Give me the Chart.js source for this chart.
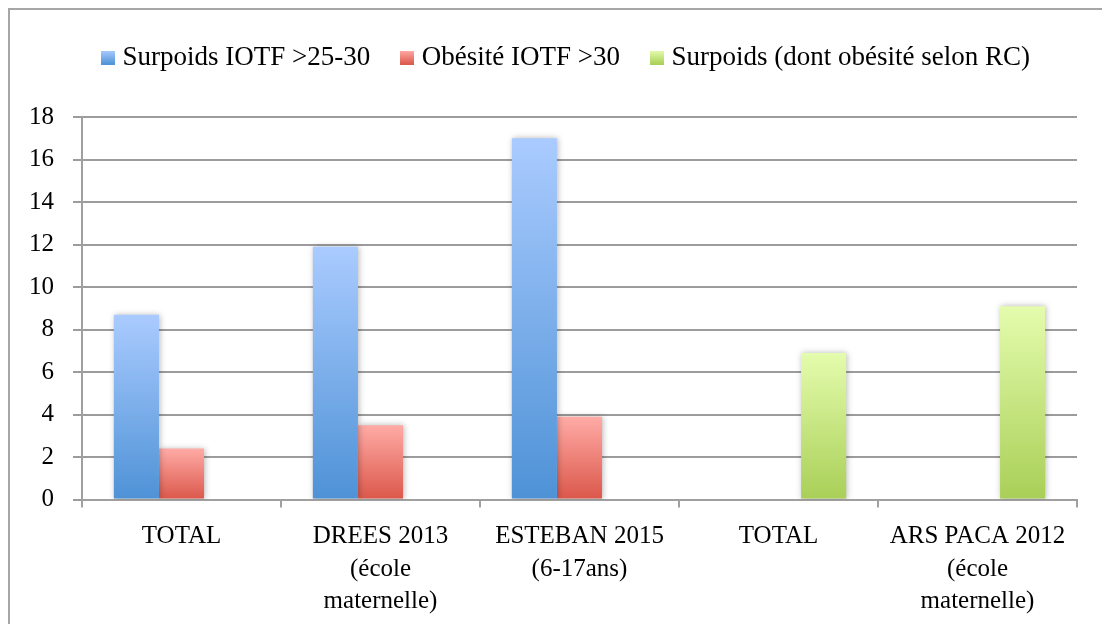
<!DOCTYPE html>
<html>
<head>
<meta charset="utf-8">
<script src="https://cdn.jsdelivr.net/npm/chart.js@4/dist/chart.umd.min.js"></script>
<style>
  body { margin: 0; background: #fff; }
  #wrap { width: 1102px; height: 624px; position: relative; }
</style>
</head>
<body>
<div id="wrap"><canvas id="obesiteChart"></canvas></div>
<script>
// Données
const categories = [
    ['TOTAL'],
    ['DREES 2013', '(école', 'maternelle)'],
    ['ESTEBAN 2015', '(6-17ans)'],
    ['TOTAL'],
    ['ARS PACA 2012', '(école', 'maternelle)']
];
const seriesLabels = ['Surpoids IOTF >25-30', 'Obésité IOTF >30', 'Surpoids (dont obésité selon RC)'];
const surpoidsIOTF = [8.7, 11.9, 17.0, null, null];
const obesiteIOTF = [2.4, 3.5, 3.9, null, null];
const surpoidsRC = [null, null, null, 6.9, 9.1];
const yMin = 0, yMax = 18, yStep = 2;

const FONT = "'Liberation Serif', 'Times New Roman', serif";

// couleurs dégradées (haut, bas)
const blue = ['#aacbff', '#4e92d6'];
const red = ['#ffaba6', '#db574a'];
const green = ['#e4fcad', '#a9cf57'];

// dégradé vertical par barre
function barGradient(colors) {
    return (c) => {
        const chart = c.chart;
        const y = chart.scales.y;
        if (!y || c.raw == null) return colors[1];
        const y0 = y.getPixelForValue(0);
        const y1 = y.getPixelForValue(c.raw);
        if (!isFinite(y0) || !isFinite(y1) || y0 === y1) return colors[1];
        const g = chart.ctx.createLinearGradient(0, y1, 0, y0);
        g.addColorStop(0, colors[0]);
        g.addColorStop(1, colors[1]);
        return g;
    };
}

// petit carré de légende avec dégradé
function legendIcon(colors) {
    const cv = document.createElement('canvas');
    cv.width = 14; cv.height = 14;
    const cx = cv.getContext('2d');
    const g = cx.createLinearGradient(0, 0, 0, 14);
    g.addColorStop(0, colors[0]);
    g.addColorStop(1, colors[1]);
    cx.fillStyle = g;
    cx.fillRect(0, 0, 14, 14);
    return cv;
}
const legendIcons = [legendIcon(blue), legendIcon(red), legendIcon(green)];

// cadre (bord gauche et haut) + ombre des barres + position de la légende
const framePlugin = {
    id: 'frame',
    beforeInit(chart) {
        const legend = chart.legend;
        if (legend) {
            const fit = legend.fit;
            legend.fit = function () {
                fit.call(this);
                this.height = 109;
            };
        }
    },
    afterLayout(chart) {
        // la légende est un peu décalée à droite dans l'original
        if (chart.legend) {
            chart.legend.left += 30;
            chart.legend.right += 30;
        }
    },
    beforeDraw(chart) {
        const ctx = chart.ctx;
        ctx.save();
        ctx.fillStyle = '#fff';
        ctx.fillRect(0, 0, chart.width, chart.height);
        ctx.restore();
    },
    beforeDatasetsDraw(chart) {
        const ctx = chart.ctx;
        ctx.save();
        ctx.shadowColor = 'rgba(0,0,0,0.28)';
        ctx.shadowBlur = 6;
        ctx.shadowOffsetX = 1;
        ctx.shadowOffsetY = 0;
    },
    afterDatasetsDraw(chart) {
        chart.ctx.restore();
    },
    afterDraw(chart) {
        const ctx = chart.ctx;
        ctx.save();
        ctx.strokeStyle = '#a6a6a6';
        ctx.lineWidth = 2;
        ctx.beginPath();
        ctx.moveTo(9, chart.height);
        ctx.lineTo(9, 9);
        ctx.lineTo(chart.width, 9);
        ctx.stroke();
        ctx.restore();
    }
};

const ctx = document.getElementById('obesiteChart').getContext('2d');
const chart = new Chart(ctx, {
    type: 'bar',
    data: {
        labels: categories,
        datasets: [
            { label: seriesLabels[0], data: surpoidsIOTF, backgroundColor: barGradient(blue) },
            { label: seriesLabels[1], data: obesiteIOTF, backgroundColor: barGradient(red) },
            { label: seriesLabels[2], data: surpoidsRC, backgroundColor: barGradient(green) }
        ]
    },
    options: {
        responsive: true,
        maintainAspectRatio: false,
        animation: false,
        categoryPercentage: 0.68,
        barPercentage: 1.0,
        layout: { padding: { left: 0, right: 25, top: 8, bottom: 0 } },
        plugins: {
            tooltip: { enabled: false },
            legend: {
                position: 'top',
                labels: {
                    usePointStyle: true,
                    pointStyleWidth: 2,
                    padding: 36,
                    color: '#000',
                    font: { family: FONT, size: 27 },
                    generateLabels(chart) {
                        return chart.data.datasets.map((ds, i) => ({
                            text: ds.label,
                            pointStyle: legendIcons[i],
                            fillStyle: 'transparent',
                            strokeStyle: 'transparent',
                            lineWidth: 0,
                            hidden: false,
                            datasetIndex: i,
                            fontColor: '#000'
                        }));
                    }
                }
            }
        },
        scales: {
            x: {
                grid: { drawOnChartArea: false, drawTicks: true, tickLength: 8, color: '#a0a0a0', lineWidth: 2 },
                border: { color: '#a0a0a0', width: 2 },
                ticks: {
                    color: '#000',
                    padding: 13,
                    maxRotation: 0,
                    autoSkip: false,
                    font: { family: FONT, size: 25, lineHeight: 1.3 }
                },
                afterFit(scale) { scale.height = 124.5; }
            },
            y: {
                min: yMin,
                max: yMax,
                ticks: {
                    stepSize: yStep,
                    color: '#000',
                    padding: 19,
                    font: { family: FONT, size: 25 }
                },
                grid: { color: '#9c9c9c', lineWidth: 2, tickLength: 9 },
                border: { color: '#a0a0a0', width: 2 },
                afterFit(scale) { scale.width = 82; }
            }
        }
    },
    plugins: [framePlugin]
});
</script>
</body>
</html>
